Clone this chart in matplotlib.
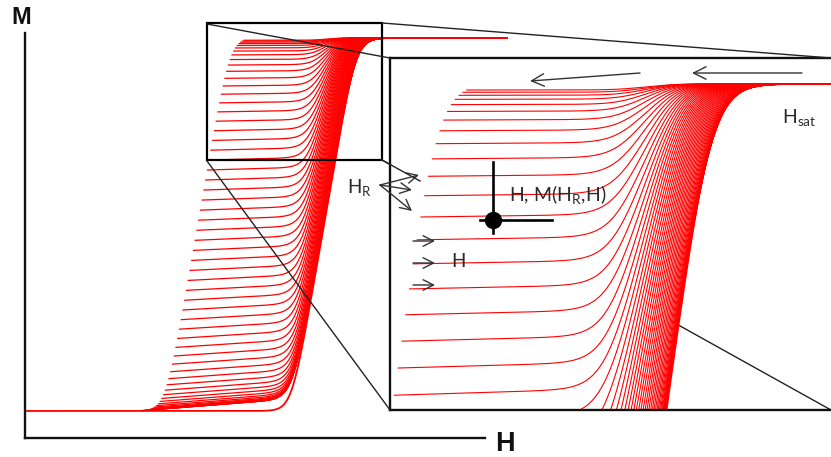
import numpy as np
import matplotlib
matplotlib.use("Agg")
import matplotlib.pyplot as plt
from matplotlib.lines import Line2D
from matplotlib.patches import Rectangle, FancyArrowPatch

plt.rcParams['font.family'] = 'Lato'
plt.rcParams['mathtext.fontset'] = 'custom'
plt.rcParams['mathtext.rm'] = 'Lato'

# major loop (M normalised to +-1)
HC = 0.63            # coercive field
LOOP_WIDTH = 0.645   # field span of the steep part
KNEE = 12            # roundness of the knees
H_START, H_END = -2.36, 2.46

# reversal fields of the first order reversal curves
HR_FIRST, HR_LAST, HR_STEP = -1.20, -0.15, 0.0175
REV_SLOPE = 0.042          # reversible slope of the flat part
SW_START = (0.44, 0.12)    # start of switching = a + b*M_R
SW_END = (0.85, -0.10)     # end of switching = a + b*M_R
SW_SOFT = 0.06             # field scale of the bend into switching

W, H = 831, 457


def softclip(t, k):
    return (np.logaddexp(0, k * t) - np.logaddexp(0, k * (t - 1))) / k


def m_up(h):
    return -1 + 2 * softclip((h - HC) / LOOP_WIDTH + 0.5, KNEE)


def m_down(h):
    return -m_up(-h)


def forc(hr, h):
    mr = m_down(hr)
    s = SW_START[0] + SW_START[1] * mr
    e = SW_END[0] + SW_END[1] * mr
    w = e - s
    k = min(12, max(3.5, w / SW_SOFT))
    flat = mr + REV_SLOPE * (h - hr) * (1 - mr) / 2
    return flat + (1 - flat) * softclip((h - s) / w, k)


def P(x, y):
    return (x / W, 1 - y / H)


def fr(x0, y0, x1, y1):
    return [x0 / W, 1 - y1 / H, (x1 - x0) / W, (y1 - y0) / H]


reversal = np.arange(HR_FIRST, HR_LAST, HR_STEP)

fig = plt.figure(figsize=(8.31, 4.57), dpi=100)

# main plot
ax = fig.add_axes(fr(25, 33, 485, 438))
ax.set_xlim(-2.36, 2.24)
ax.set_ylim(-1.145, 1.027)
for s in ['top', 'right']:
    ax.spines[s].set_visible(False)
for s in ['left', 'bottom']:
    ax.spines[s].set_linewidth(1.7)
    ax.spines[s].set_color('#111111')
ax.set_xticks([])
ax.set_yticks([])

hh = np.linspace(H_START, H_END, 1500)
ax.plot(hh, m_up(hh), color='red', lw=1.3, clip_on=False)
for hr in reversal:
    h = np.linspace(hr, H_END, 900)
    ax.plot(h, forc(hr, h), color='red', lw=0.9, clip_on=False)

ax.add_patch(Rectangle((-0.54, 0.346), 1.75, 0.734, fill=False, lw=1.6,
                       edgecolor='black', clip_on=False, zorder=5))

# inset
axin = fig.add_axes(fr(390, 58, 834, 410), zorder=1)
axin.set_facecolor('none')
axin.set_xlim(-0.52, 1.52)
axin.set_ylim(0.37, 1.05)
axin.set_xticks([])
axin.set_yticks([])
for s in axin.spines.values():
    s.set_linewidth(1.7)
    s.set_color('#111111')
hf = np.linspace(-0.52, 1.52, 600)
axin.fill_between(hf, m_up(hf), 1.2, color='white', lw=0, zorder=0)
axin.plot(hh, m_up(hh), color='red', lw=1.3)
for hr in reversal:
    h = np.linspace(hr, H_END, 900)
    axin.plot(h, forc(hr, h), color='red', lw=0.8)


def seg(p0, p1, lw=1.0, color='#222222', z=3):
    fig.add_artist(Line2D([P(*p0)[0], P(*p1)[0]], [P(*p0)[1], P(*p1)[1]],
                          transform=fig.transFigure, lw=lw, color=color, zorder=z))


def arrow(p0, p1, hl=0.75, hw=0.38):
    fig.add_artist(FancyArrowPatch(P(*p0), P(*p1), transform=fig.transFigure,
                                   arrowstyle=f'->,head_length={hl},head_width={hw}',
                                   mutation_scale=10, lw=1.0, color='#333333',
                                   shrinkA=0, shrinkB=0, zorder=6))


# zoom connectors
seg((207, 24), (390, 58))
seg((382, 23), (831, 58))
seg((207, 161), (390, 410))
seg((382, 160), (831, 410), z=0.5)
seg((382, 160), (420, 181))

# annotations
fig.text(*P(11, 24), 'M', fontsize=17, fontweight='bold', family='Liberation Sans',
         va='baseline', ha='left', color='#111111')
fig.text(*P(495, 451), 'H', fontsize=19.5, fontweight='bold', family='Liberation Sans',
         va='baseline', ha='left', color='#111111')

tc = '#2a2a2a'
fig.text(*P(347, 193), r'$\mathregular{H_R}$', fontsize=13.5, color=tc, va='baseline')
for end in [(419, 175), (412, 190), (412, 211)]:
    arrow((380, 185), end)
for y in [241, 263, 285]:
    arrow((413, y), (435, y))
fig.text(*P(451, 267), 'H', fontsize=13.5, color=tc, va='baseline', zorder=6)
fig.text(*P(509, 201), r'H, M($\mathregular{H_R}$,H)', fontsize=14, color=tc,
         va='baseline', zorder=6)
fig.text(*P(782, 123), r'$\mathregular{H_{sat}}$', fontsize=14, color=tc,
         va='baseline', zorder=6)
arrow((640, 73), (530, 81), hl=0.9, hw=0.45)
arrow((802, 73), (692, 73), hl=0.9, hw=0.45)

# measurement point
seg((493, 162), (493, 233), lw=1.9, color='black', z=6)
seg((480, 220), (552, 220), lw=1.9, color='black', z=6)
fig.add_artist(Line2D([P(493, 220)[0]], [P(493, 220)[1]], marker='o', ms=11.5,
                      color='black', transform=fig.transFigure, zorder=7))

fig.savefig('out.png', dpi=100)
